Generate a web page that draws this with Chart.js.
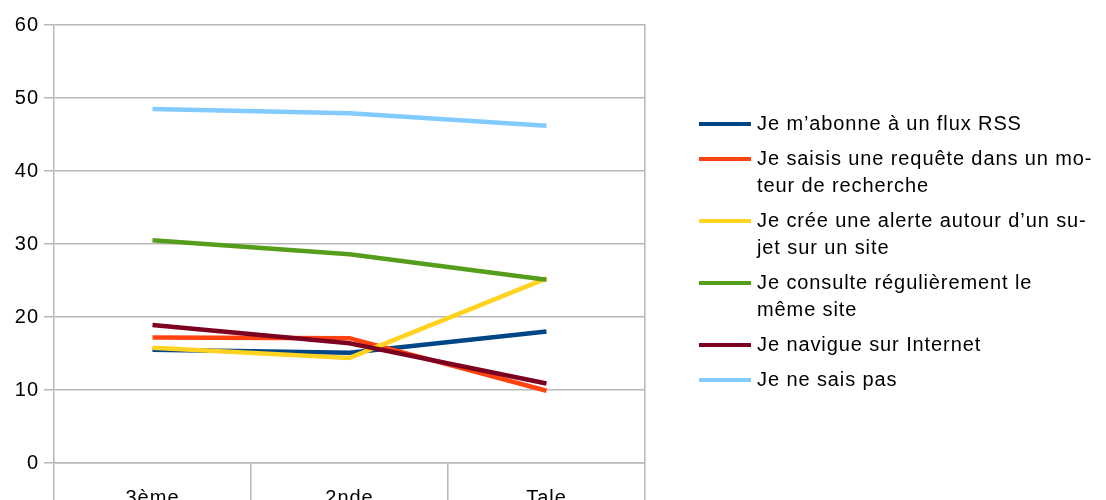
<!DOCTYPE html>
<html lang="fr">
<head>
<meta charset="utf-8">
<title>Veille informationnelle par niveau</title>
<script src="https://cdn.jsdelivr.net/npm/chart.js@4.4.1/dist/chart.umd.min.js"></script>
<style>
  html, body { margin: 0; padding: 0; background: #fff; overflow: hidden; }
  #wrap { position: relative; width: 1106px; height: 500px; overflow: hidden; }
  #chart { position: absolute; left: 0; top: 0; }
  #legend {
    position: absolute; left: 699px; top: 110px; width: 407px;
    font-family: "Liberation Sans", Arial, sans-serif; font-size: 20px; color: #000;
    letter-spacing: 0.9px;
  }
  .item { display: flex; align-items: flex-start; margin-bottom: 8px; }
  .swatch { width: 52px; height: 4px; margin-top: 12px; margin-right: 6px; flex: none; }
  .txt { line-height: 27px; white-space: nowrap; }
</style>
</head>
<body>
<div id="wrap">
  <canvas id="chart" width="1106" height="530"></canvas>
  <div id="legend"></div>
</div>
<script>
// Niveaux scolaires
const categories = ["3ème", "2nde", "Tale"];

// Pourcentages par pratique
const rss       = [15.5, 15.1, 18.0];
const requete   = [17.2, 17.1, 9.9];
const alerte    = [15.8, 14.4, 25.3];
const consulte  = [30.5, 28.6, 25.1];
const navigue   = [18.9, 16.4, 10.9];
const neSaisPas = [48.5, 47.9, 46.2];

const yTicks = [0, 10, 20, 30, 40, 50, 60];

// Libellés de légende (coupés en lignes)
const seriesLabels = [
  ["Je m’abonne à un flux RSS"],
  ["Je saisis une requête dans un mo-", "teur de recherche"],
  ["Je crée une alerte autour d’un su-", "jet sur un site"],
  ["Je consulte régulièrement le", "même site"],
  ["Je navigue sur Internet"],
  ["Je ne sais pas"]
];
const seriesValues = [rss, requete, alerte, consulte, navigue, neSaisPas];
const seriesColors = ["#004586", "#ff420e", "#ffd320", "#579d1c", "#7e0021", "#83caff"];

const FONT = "'Liberation Sans', Arial, sans-serif";
const GRID = "#b8b8b8";

const datasets = seriesValues.map((vals, i) => ({
  label: seriesLabels[i].join(" "),
  data: vals,
  borderColor: seriesColors[i],
  backgroundColor: seriesColors[i],
  borderWidth: 4.5,
  pointRadius: 0,
  pointHoverRadius: 0,
  tension: 0,
  fill: false,
  order: seriesValues.length - i,
  yAxisID: "y"
}));

// Espacement des lettres pour les libellés d'axes
const spacedText = {
  id: "spacedText",
  beforeDraw(chart) { chart.ctx.letterSpacing = "1px"; }
};

new Chart(document.getElementById("chart"), {
  type: "line",
  data: { labels: categories, datasets },
  plugins: [spacedText],
  options: {
    responsive: false,
    animation: false,
    events: [],
    layout: { padding: { top: 25, right: 461, left: 0, bottom: 0 } },
    plugins: { legend: { display: false }, tooltip: { enabled: false } },
    scales: {
      x: {
        offset: true,
        grid: {
          offset: true, drawOnChartArea: false, drawTicks: true,
          tickLength: 45, color: GRID, lineWidth: 1.5
        },
        border: { display: true, color: GRID, width: 1.5 },
        ticks: { padding: -22, color: "#000", font: { family: FONT, size: 20 } },
        afterFit(scale) { scale.height = 67; }
      },
      y: {
        min: 0, max: 60,
        afterBuildTicks(scale) { scale.ticks = yTicks.map(v => ({ value: v })); },
        grid: { color: GRID, lineWidth: 1.5, tickLength: 10 },
        border: { display: true, color: GRID, width: 1.5 },
        ticks: { padding: 5, color: "#000", font: { family: FONT, size: 20 } },
        afterFit(scale) { scale.width = 54; }
      },
      y2: {
        position: "right",
        min: 0, max: 60,
        grid: { drawOnChartArea: false, drawTicks: false },
        border: { display: true, color: GRID, width: 1.5 },
        ticks: { display: false },
        afterFit(scale) { scale.width = 0; }
      }
    }
  }
});

// Légende HTML à droite
const legend = document.getElementById("legend");
seriesLabels.forEach((lines, i) => {
  const item = document.createElement("div");
  item.className = "item";
  const sw = document.createElement("div");
  sw.className = "swatch";
  sw.style.background = seriesColors[i];
  const txt = document.createElement("div");
  txt.className = "txt";
  txt.innerHTML = lines.map(l => l.replace(/&/g, "&amp;").replace(/</g, "&lt;")).join("<br>");
  item.appendChild(sw);
  item.appendChild(txt);
  legend.appendChild(item);
});
</script>
</body>
</html>
